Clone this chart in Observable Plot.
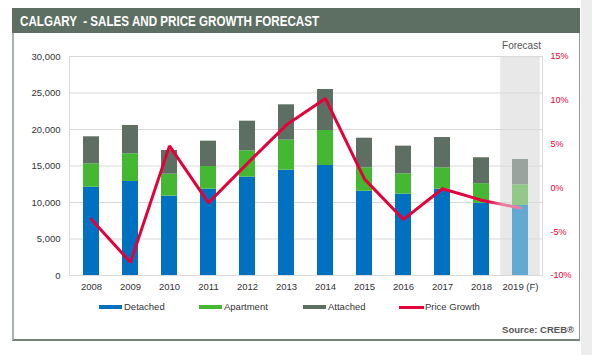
<!DOCTYPE html>
<html>
<head>
<meta charset="utf-8">
<script src="https://cdn.jsdelivr.net/npm/d3@7"></script>
<script src="https://cdn.jsdelivr.net/npm/@observablehq/plot@0.6"></script>
<style>
  html, body { margin: 0; padding: 0; background: #fff; }
  #wrap { position: relative; width: 592px; height: 355px; overflow: hidden; font-family: "Liberation Sans", Arial, sans-serif; }
  #shade { position: absolute; left: 581px; top: 0; width: 11px; height: 355px; background: #ededed; }
  #frame { position: absolute; left: 12px; top: 8px; width: 565px; height: 331px; border-left: 2px solid #a9b4ad; border-right: 1px solid #8e9a93; border-bottom: 2px solid #76837b; background: #fff; }
  #header { position: absolute; left: 12px; top: 8px; width: 568px; height: 25px; background: #5d6e62; }
  #title { position: absolute; left: 20px; top: 13px; color: #fff; font-family: "Liberation Sans", Arial, sans-serif; font-weight: bold; font-size: 14px; line-height: 16px; white-space: pre; transform: scaleX(0.83); transform-origin: 0 50%; }
  #chart { position: absolute; left: 0; top: 0; }
  .fc { position: absolute; left: 501px; width: 41px; top: 40px; text-align: center; font-size: 10px; color: #555; }
  .leg { position: absolute; top: 301px; font-size: 9.5px; color: #333; line-height: 12px; white-space: nowrap; }
  .sw { position: absolute; top: 305px; height: 4px; }
  #src { position: absolute; right: 18px; top: 324px; font-size: 9.5px; font-weight: bold; color: #555; }
</style>
</head>
<body>
<div id="wrap">
  <div id="shade"></div>
  <div id="frame"></div>
  <div id="header"></div>
  <div id="title">CALGARY  - SALES AND PRICE GROWTH FORECAST</div>
  <div id="chart"></div>
  <div class="fc">Forecast</div>
  <div id="legend"></div>
  <div id="src">Source: CREB®</div>
</div>
<script>
const years = ["2008","2009","2010","2011","2012","2013","2014","2015","2016","2017","2018","2019 (F)"];
const detached  = [12100, 12880, 10870, 11830, 13470, 14430, 15070, 11550, 11140, 11830, 9880, 9590];
const apartment = [3200, 3790, 3010, 3100, 3610, 4110, 4790, 3200, 2790, 2920, 2700, 2830];
const attached  = [3700, 3880, 3240, 3470, 4060, 4840, 5620, 4060, 3790, 4150, 3550, 3470];
const priceGrowth = [-3.6, -8.5, 4.8, -1.7, 2.8, 7.2, 10.2, 1.0, -3.6, -0.1, -1.4, -2.3];
const forecastYear = "2019 (F)";
const leftTicks = [0, 5000, 10000, 15000, 20000, 25000, 30000];
const rightTicks = [-10, -5, 0, 5, 10, 15];
const seriesNames = ["Detached", "Apartment", "Attached", "Price Growth"];

const colors = {
  Detached:  ["#0070c0", "#62a9d3"],
  Apartment: ["#44b833", "#93c988"],
  Attached:  ["#5d6e62", "#9aa39d"]
};
const red = "#e4003b";
const pink = "#ea7d9f";

// map percent onto the left value axis (−10% → 0, 15% → 30,000)
const pMin = rightTicks[0], pMax = rightTicks[rightTicks.length - 1];
const yMax = leftTicks[leftTicks.length - 1];
const toY = p => (p - pMin) / (pMax - pMin) * yMax;

const stacked = [];
years.forEach((yr, i) => {
  const f = yr === forecastYear ? 1 : 0;
  stacked.push({year: yr, series: "Detached", value: detached[i], color: colors.Detached[f]});
  stacked.push({year: yr, series: "Apartment", value: apartment[i], color: colors.Apartment[f]});
  stacked.push({year: yr, series: "Attached", value: attached[i], color: colors.Attached[f]});
});
const lineData = years.map((yr, i) => ({year: yr, pct: priceGrowth[i]}));

const plot = Plot.plot({
  width: 592,
  height: 295,
  marginLeft: 69,
  marginRight: 50,
  marginTop: 56,
  marginBottom: 20,
  style: {fontFamily: "'Liberation Sans', Arial, sans-serif", fontSize: "9.5px", color: "#333", background: "transparent", overflow: "visible"},
  x: {type: "band", domain: years, paddingInner: 0.6, paddingOuter: 0.3, label: null},
  y: {domain: [0, yMax], label: null},
  color: {type: "identity"},
  marks: [
    Plot.barY([forecastYear], {x: d => d, y1: 0, y2: yMax, fill: "#e8e8e8", insetLeft: -11.8, insetRight: -11.8}),
    Plot.gridY(leftTicks, {stroke: "#d9d9d9", strokeOpacity: 1}),
    Plot.frame({stroke: "#d9d9d9"}),
    Plot.barY(stacked, {x: "year", y: "value", fill: "color"}),
    Plot.line(lineData.slice(0, 11), {x: "year", y: d => toY(d.pct), stroke: red, strokeWidth: 3, strokeLinejoin: "miter"}),
    Plot.line(lineData.slice(10), {x: "year", y: d => toY(d.pct), stroke: "url(#fcGrad)", strokeWidth: 3}),
    Plot.axisY(leftTicks, {anchor: "left", tickSize: 0, tickPadding: 9, tickFormat: d3.format(","), label: null, fill: "#333"}),
    Plot.axisY(rightTicks.map(toY), {anchor: "right", tickSize: 0, tickPadding: 8, label: null, fill: red, fontSize: 9,
      tickFormat: v => `${Math.round(v / yMax * (pMax - pMin) + pMin)}%`}),
    Plot.axisX({tickSize: 0, tickPadding: 8, label: null, fill: "#333"})
  ]
});

const svg = d3.select(plot);
const grad = svg.insert("defs", ":first-child").append("linearGradient").attr("id", "fcGrad")
  .attr("x1", "0").attr("x2", "1").attr("y1", "0").attr("y2", "0");
grad.append("stop").attr("offset", "0.18").attr("stop-color", red);
grad.append("stop").attr("offset", "0.52").attr("stop-color", pink);
grad.append("stop").attr("offset", "1").attr("stop-color", pink);

document.getElementById("chart").appendChild(plot);

// legend
const legPos = [[99, 124], [199, 224], [303, 328], [399, 425]];
const legColors = [colors.Detached[0], colors.Apartment[0], colors.Attached[0], red];
const legend = document.getElementById("legend");
seriesNames.forEach((name, i) => {
  const sw = document.createElement("div");
  sw.className = "sw";
  sw.style.left = legPos[i][0] + "px";
  sw.style.width = (i === 3 ? 25 : 23) + "px";
  sw.style.background = legColors[i];
  if (i === 3) { sw.style.height = "3px"; sw.style.top = "305.5px"; }
  legend.appendChild(sw);
  const t = document.createElement("div");
  t.className = "leg";
  t.style.left = legPos[i][1] + "px";
  t.textContent = name;
  legend.appendChild(t);
});
</script>
</body>
</html>
